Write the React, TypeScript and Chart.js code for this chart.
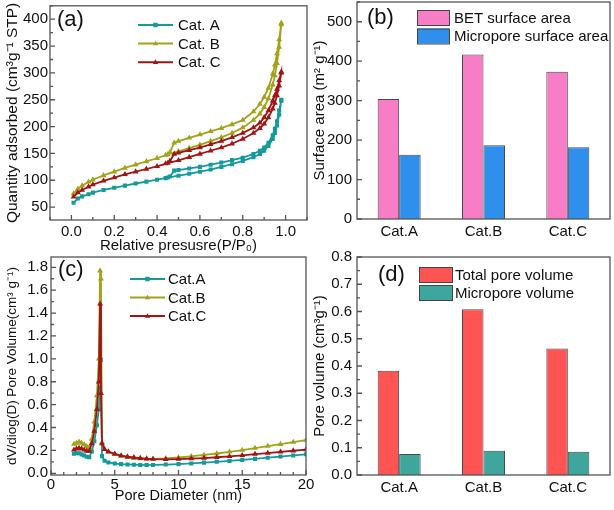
import React, { useEffect, useRef } from 'react';
import { Chart, registerables } from 'chart.js';

Chart.register(...registerables);

const FONT = '"Liberation Sans", Arial, Helvetica, sans-serif';
const TEXT = '#111111';
const AXIS = '#555555';

// ---------- (a) N2 adsorption-desorption isotherms ----------
const REL_P_ADS = [0.01, 0.03, 0.05, 0.08, 0.1, 0.15, 0.2, 0.25, 0.3, 0.35, 0.4, 0.45, 0.5, 0.55, 0.6, 0.65, 0.7, 0.75, 0.8, 0.85, 0.88, 0.9, 0.92, 0.94, 0.95, 0.96, 0.97, 0.98];
const REL_P_DES = [0.98, 0.97, 0.96, 0.95, 0.94, 0.92, 0.9, 0.88, 0.85, 0.8, 0.75, 0.7, 0.65, 0.6, 0.55, 0.5, 0.48, 0.46, 0.44];
const ADS_A = [58, 66, 70, 74, 77, 82, 86, 90, 94, 97.5, 101, 105, 108.5, 112, 116, 120, 125, 130, 136, 143, 149, 155, 164, 177, 188, 202, 222, 248];
const DES_A = [250, 230, 210, 196, 184, 170, 161, 155, 149, 142, 137.5, 133, 129, 125, 122, 119, 118, 107, 104];
const ADS_B = [75, 84, 90, 97, 101, 109, 116, 123, 129, 135, 141, 148, 154, 160, 166, 173, 180, 188, 198, 212, 224, 236, 252, 278, 295, 318, 348, 390];
const DES_B = [393, 362, 336, 315, 298, 272, 255, 242, 228, 212, 204, 197, 191, 185, 179, 173, 170, 152, 147];
const ADS_C = [69, 77, 82, 88, 92, 99, 105, 111, 116, 121, 126, 132, 137, 143, 149, 155, 161, 168, 177, 188, 197, 205, 217, 233, 244, 258, 276, 300];
const DES_C = [302, 286, 270, 258, 248, 230, 217, 207, 198, 188, 180, 173, 167, 161, 156, 151, 149, 136, 131];
const ISO_LABELS = ['Cat. A', 'Cat. B', 'Cat. C'];
const A_X_TICKS = [0, 0.2, 0.4, 0.6, 0.8, 1.0];
const A_Y_TICKS = [50, 100, 150, 200, 250, 300, 350, 400];

// ---------- (b) surface areas ----------
const CATS = ['Cat.A', 'Cat.B', 'Cat.C'];
const BET_AREA = [304, 417, 373];
const MICRO_AREA = [163, 187, 182];
const B_Y_TICKS = [0, 100, 200, 300, 400, 500];

// ---------- (c) pore size distribution ----------
const PORE_D = [1.8, 2.0, 2.2, 2.4, 2.6, 2.8, 3.0, 3.2, 3.4, 3.6, 3.75, 3.85, 3.92, 4.0, 4.2, 4.5, 5.0, 5.5, 6.0, 6.5, 7.0, 7.5, 8.0, 9, 10, 11, 12, 13, 14, 15, 16, 17, 18, 19, 20];
const PSD_A = [0.17, 0.175, 0.175, 0.165, 0.155, 0.145, 0.14, 0.19, 0.28, 0.42, 0.56, 0.75, 0.99, 0.15, 0.11, 0.095, 0.085, 0.08, 0.077, 0.075, 0.073, 0.072, 0.073, 0.076, 0.08, 0.086, 0.093, 0.1, 0.108, 0.117, 0.126, 0.136, 0.146, 0.156, 0.166];
const PSD_B = [0.255, 0.265, 0.275, 0.265, 0.25, 0.235, 0.228, 0.3, 0.45, 0.68, 1.0, 1.77, 1.7, 0.27, 0.21, 0.185, 0.165, 0.15, 0.14, 0.133, 0.128, 0.126, 0.126, 0.13, 0.138, 0.148, 0.16, 0.173, 0.187, 0.203, 0.22, 0.237, 0.254, 0.272, 0.29];
const PSD_C = [0.205, 0.215, 0.22, 0.215, 0.205, 0.195, 0.195, 0.26, 0.37, 0.56, 0.8, 1.48, 0.7, 0.26, 0.21, 0.19, 0.17, 0.155, 0.145, 0.138, 0.132, 0.127, 0.124, 0.122, 0.124, 0.128, 0.133, 0.14, 0.148, 0.157, 0.167, 0.177, 0.187, 0.197, 0.207];
const PSD_LABELS = ['Cat.A', 'Cat.B', 'Cat.C'];
const C_X_TICKS = [0, 5, 10, 15, 20];
const C_Y_TICKS = [0, 0.2, 0.4, 0.6, 0.8, 1.0, 1.2, 1.4, 1.6, 1.8];

// ---------- (d) pore volumes ----------
const TOTAL_PV = [0.383, 0.608, 0.464];
const MICRO_PV = [0.077, 0.089, 0.085];
const D_Y_TICKS = [0, 0.1, 0.2, 0.3, 0.4, 0.5, 0.6, 0.7, 0.8];

const COL_A = '#139a9a';
const COL_B = '#a3a31a';
const COL_C = '#a01616';

const pts = (xs: number[], ys: number[]) => xs.map((x, i) => ({ x, y: ys[i] }));

const framePlugin = {
  id: 'frame',
  afterDraw(chart: any, _a: any, o: any) {
    const { ctx, chartArea: a } = chart;
    ctx.save();
    ctx.strokeStyle = AXIS;
    ctx.lineWidth = 1.3;
    ctx.strokeRect(a.left, a.top, a.right - a.left, a.bottom - a.top);
    const minorLoop = (s: any, step: number, f: (v: number) => void) => {
      const k0 = Math.ceil(s.min / step - 1e-9);
      const k1 = Math.floor(s.max / step + 1e-9);
      for (let k = k0; k <= k1; k++) f(k * step);
    };
    ctx.beginPath();
    const ys = chart.scales.y;
    ys.ticks.forEach((t: any) => {
      const p = ys.getPixelForValue(t.value);
      ctx.moveTo(a.left, p); ctx.lineTo(a.left + 5, p);
    });
    if (o.yMinor) minorLoop(ys, o.yMinor, (v) => {
      const p = ys.getPixelForValue(v);
      ctx.moveTo(a.left, p); ctx.lineTo(a.left + 3, p);
    });
    if (o.xTicks) {
      const xs = chart.scales.x;
      xs.ticks.forEach((t: any) => {
        const p = xs.getPixelForValue(t.value);
        ctx.moveTo(p, a.bottom); ctx.lineTo(p, a.bottom - 5);
      });
      if (o.xMinor) minorLoop(xs, o.xMinor, (v) => {
        const p = xs.getPixelForValue(v);
        ctx.moveTo(p, a.bottom); ctx.lineTo(p, a.bottom - 3);
      });
    }
    ctx.stroke();
    ctx.restore();
  },
};

function marker(ctx: any, style: string, x: number, y: number, r: number, color: string) {
  ctx.fillStyle = color;
  ctx.beginPath();
  if (style === 'rect') {
    ctx.rect(x - r, y - r, 2 * r, 2 * r);
  } else {
    ctx.moveTo(x, y - r * 1.3);
    ctx.lineTo(x + r * 1.2, y + r * 0.8);
    ctx.lineTo(x - r * 1.2, y + r * 0.8);
    ctx.closePath();
  }
  ctx.fill();
}

const decorPlugin = {
  id: 'decor',
  afterDraw(chart: any, _a: any, o: any) {
    const ctx = chart.ctx;
    ctx.save();
    ctx.textBaseline = 'middle';
    ctx.textAlign = 'left';
    ctx.fillStyle = TEXT;
    if (o.tag) {
      ctx.font = `22px ${FONT}`;
      ctx.fillText(o.tag.text, o.tag.x, o.tag.y);
    }
    if (o.lines) {
      const L = o.lines;
      chart.data.datasets.forEach((ds: any, i: number) => {
        const y = L.y + i * L.dy;
        ctx.strokeStyle = ds.borderColor;
        ctx.lineWidth = 2;
        ctx.beginPath();
        ctx.moveTo(L.x, y);
        ctx.lineTo(L.x + L.len, y);
        ctx.stroke();
        marker(ctx, ds.pointStyle, L.x + L.len / 2, y, 2.2, ds.borderColor);
        ctx.fillStyle = TEXT;
        ctx.font = `15px ${FONT}`;
        ctx.fillText(ds.label, L.tx, y + 1);
      });
    }
    if (o.boxes) {
      const B = o.boxes;
      chart.data.datasets.forEach((ds: any, i: number) => {
        const y = B.y + i * B.dy;
        ctx.fillStyle = ds.backgroundColor;
        ctx.fillRect(B.x, y, B.w, B.h);
        ctx.strokeStyle = '#444';
        ctx.lineWidth = 1;
        ctx.strokeRect(B.x + 0.5, y + 0.5, B.w, B.h);
        ctx.fillStyle = TEXT;
        ctx.font = `15px ${FONT}`;
        ctx.fillText(ds.label, B.tx, y + B.h / 2 + 1);
      });
    }
    ctx.restore();
  },
};

const tickFont = { family: FONT, size: 15 };
const fixedTicks = (values: number[]) => (s: any) => {
  s.ticks = values.map((v) => ({ value: v }));
};
const fitX = (h: number) => (s: any) => {
  s.height = h;
  s.paddingLeft = 0;
  s.paddingRight = 0;
};
const fitY = (w: number) => (s: any) => {
  s.width = w;
  s.paddingTop = 0;
  s.paddingBottom = 0;
};

function linAxis(o: any) {
  return {
    type: 'linear',
    min: o.min,
    max: o.max,
    afterBuildTicks: fixedTicks(o.ticks),
    afterFit: o.horizontal ? fitX(o.size) : fitY(o.size),
    grid: { display: false, drawTicks: false },
    border: { display: false },
    ticks: {
      font: tickFont,
      color: TEXT,
      padding: o.pad,
      autoSkip: false,
      maxRotation: 0,
      callback: (v: any) => (o.dec != null ? Number(v).toFixed(o.dec) : String(v)),
    },
    title: o.title
      ? {
          display: true,
          text: o.title,
          font: { family: FONT, size: o.titleSize || 15 },
          color: TEXT,
          padding: o.horizontal ? { top: 0, bottom: o.titlePad } : { top: o.titlePad, bottom: 0 },
        }
      : { display: false },
  };
}

const base = {
  animation: false,
  responsive: false,
  devicePixelRatio: 1,
  events: [],
};

function makeA() {
  const mk = (label: string, ads: number[], des: number[], color: string, style: string, order: number) => ({
    label,
    data: pts(REL_P_ADS.concat(REL_P_DES), ads.concat(des)),
    showLine: true,
    borderColor: color,
    backgroundColor: color,
    borderWidth: 1.8,
    pointRadius: 1.6,
    pointStyle: style,
    order,
  });
  return {
    type: 'scatter',
    data: {
      datasets: [
        mk(ISO_LABELS[0], ADS_A, DES_A, COL_A, 'rect', 2),
        mk(ISO_LABELS[1], ADS_B, DES_B, COL_B, 'triangle', 1),
        mk(ISO_LABELS[2], ADS_C, DES_C, COL_C, 'triangle', 0),
      ],
    },
    options: {
      ...base,
      layout: { padding: { left: 0, top: 2, right: 307, bottom: 255 } },
      plugins: {
        legend: { display: false },
        tooltip: { enabled: false },
        frame: { yMinor: 25, xTicks: true, xMinor: 0.1 },
        decor: { tag: { text: '(a)', x: 57, y: 20 }, lines: { x: 138, len: 35, y: 25, dy: 18.6, tx: 178 } },
      },
      scales: {
        x: linAxis({ horizontal: true, min: -0.1, max: 1.1, ticks: A_X_TICKS, size: 35, pad: 3, dec: 1, title: 'Relative presusre(P/P₀)', titlePad: 0 }),
        y: linAxis({ min: 26, max: 425, ticks: A_Y_TICKS, size: 50, pad: 2, title: 'Quantity adsorbed (cm³g⁻¹ STP)', titleSize: 15.5, titlePad: 3 }),
      },
    },
    plugins: [framePlugin, decorPlugin],
  };
}

function makeBars(o: any) {
  const ds = (label: string, data: number[], color: string) => ({
    label,
    data,
    backgroundColor: color,
    borderColor: '#4a4a4a',
    borderWidth: 1,
    barPercentage: 1,
    categoryPercentage: 0.51,
  });
  return {
    type: 'bar',
    data: {
      labels: CATS,
      datasets: [ds(o.labels[0], o.d0, o.c0), ds(o.labels[1], o.d1, o.c1)],
    },
    options: {
      ...base,
      layout: { padding: o.padding },
      plugins: {
        legend: { display: false },
        tooltip: { enabled: false },
        frame: { yMinor: o.yMinor, xTicks: false },
        decor: { tag: o.tag, boxes: o.boxes },
      },
      scales: {
        x: {
          type: 'category',
          afterFit: fitX(o.xh),
          grid: { display: false, drawTicks: false },
          border: { display: false },
          ticks: { font: tickFont, color: TEXT, padding: 4, maxRotation: 0 },
        },
        y: linAxis({ min: o.min, max: o.max, ticks: o.ticks, size: 50, pad: 5, dec: o.dec, title: o.title, titlePad: 3.6 }),
      },
    },
    plugins: [framePlugin, decorPlugin],
  };
}

function makeB() {
  return makeBars({
    labels: ['BET surface area', 'Micropore surface area'],
    d0: BET_AREA,
    d1: MICRO_AREA,
    c0: '#f77ec6',
    c1: '#2f8fec',
    padding: { left: 307, top: 2, right: 4, bottom: 255 },
    xh: 36,
    yMinor: 50,
    min: 0,
    max: 550,
    ticks: B_Y_TICKS,
    dec: null,
    title: 'Surface area (m² g⁻¹)',
    tag: { text: '(b)', x: 367, y: 18 },
    boxes: { x: 417, w: 32, y: 10, dy: 18.5, h: 15, tx: 454 },
  });
}

function makeD() {
  return makeBars({
    labels: ['Total pore volume', 'Micropore volume'],
    d0: TOTAL_PV,
    d1: MICRO_PV,
    c0: '#ff5454',
    c1: '#3ea69c',
    padding: { left: 307, top: 257, right: 4, bottom: 0 },
    xh: 35,
    yMinor: 0.05,
    min: 0,
    max: 0.8,
    ticks: D_Y_TICKS,
    dec: 1,
    title: 'Pore volume (cm³g⁻¹)',
    tag: { text: '(d)', x: 378, y: 275 },
    boxes: { x: 419, w: 33, y: 267, dy: 18, h: 15, tx: 455 },
  });
}

function makeC() {
  const mk = (label: string, ys: number[], color: string, style: string, order: number) => ({
    label,
    data: pts(PORE_D, ys),
    showLine: true,
    borderColor: color,
    backgroundColor: color,
    borderWidth: 1.8,
    pointRadius: 1.6,
    pointStyle: style,
    order,
  });
  return {
    type: 'scatter',
    data: {
      datasets: [
        mk(PSD_LABELS[0], PSD_A, COL_A, 'rect', 2),
        mk(PSD_LABELS[1], PSD_B, COL_B, 'triangle', 1),
        mk(PSD_LABELS[2], PSD_C, COL_C, 'triangle', 0),
      ],
    },
    options: {
      ...base,
      layout: { padding: { left: 0, top: 257, right: 308, bottom: 0 } },
      plugins: {
        legend: { display: false },
        tooltip: { enabled: false },
        frame: { yMinor: 0.1, xTicks: true, xMinor: 1 },
        decor: { tag: { text: '(c)', x: 58, y: 270 }, lines: { x: 130, len: 35, y: 279, dy: 18.5, tx: 168 } },
      },
      scales: {
        x: linAxis({ horizontal: true, min: 0, max: 20, ticks: C_X_TICKS, size: 35, pad: 1, dec: null, title: 'Pore Diameter (nm)', titleSize: 14.5, titlePad: 5 }),
        y: linAxis({ min: -0.015, max: 1.89, ticks: C_Y_TICKS, size: 51, pad: 3, dec: 1, title: 'dV/diog(D) Pore Volume(cm³ g⁻¹)', titleSize: 13.5, titlePad: 4.4 }),
      },
    },
    plugins: [framePlugin, decorPlugin],
  };
}

function Panel({ make }: { make: () => any }) {
  const ref = useRef<HTMLCanvasElement>(null);
  useEffect(() => {
    const chart = new Chart(ref.current as HTMLCanvasElement, make() as any);
    return () => chart.destroy();
  }, []);
  return (
    <canvas
      ref={ref}
      width={614}
      height={510}
      style={{ position: 'absolute', left: 0, top: 0, width: 614, height: 510 }}
    />
  );
}

export default function App() {
  return (
    <div style={{ position: 'fixed', left: 0, top: 0, width: 614, height: 510, background: '#ffffff', overflow: 'hidden' }}>
      <Panel make={makeA} />
      <Panel make={makeB} />
      <Panel make={makeC} />
      <Panel make={makeD} />
    </div>
  );
}
